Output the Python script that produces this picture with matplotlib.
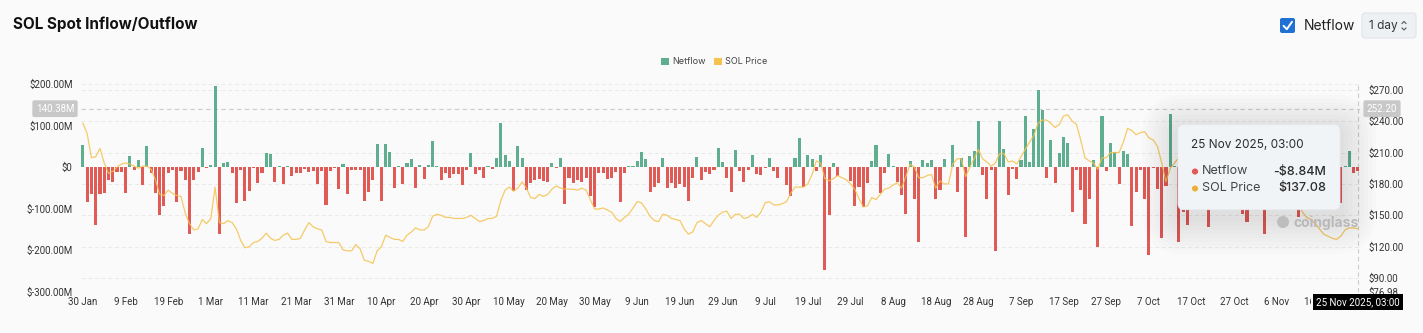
import matplotlib.pyplot as plt
import pandas as pd
from matplotlib.patches import FancyBboxPatch, Rectangle, Circle
from matplotlib.lines import Line2D
from matplotlib.transforms import IdentityTransform, blended_transform_factory, Bbox

W, H = 1423, 333

# daily netflow, $M (30 Jan .. 25 Nov 2025)
netflow = [
    54, -85, -66, -140, -66, -62, -31, -35, -11, -11,
    -62, 27, -7, 16, -43, 51, -14, -62, -116, -94,
    -15, -7, -84, -10, -31, -162, -31, -11, 47, -3,
    5, 196, -162, 9, 13, -14, -86, -7, -82, -58,
    -3, -39, -14, 35, 31, -35, 3, -40, 2, -22,
    -14, -14, -5, -11, -10, -40, -10, -92, -10, -2,
    -53, 8, -66, -6, -6, -7, -81, -59, -31, 55,
    -81, 56, 37, -50, 3, -40, 9, 20, -50, 6,
    -28, 5, 62, 2, -31, -14, -27, -17, -17, -42,
    -8, 35, -17, -6, -27, 3, -5, 23, 105, 29,
    14, -58, 50, 21, -54, -38, -31, -29, -34, -35,
    11, -3, 21, -90, -27, -38, -31, -35, -26, -70,
    -96, -15, -14, -29, -27, -12, -84, -14, 3, 2,
    15, 37, 19, -59, -49, -38, 23, -50, -38, -50,
    -40, -49, -82, -27, 25, -31, -11, -16, -6, 45,
    12, -26, -59, 42, -9, -37, -8, 30, -16, -18,
    -2, 23, -10, -27, 1, -44, -69, 23, 71, -49,
    28, 20, -9, 30, -247, -115, 10, -22, 1, -1,
    -34, -94, -47, -96, -38, 15, 52, -62, -15, 31,
    2, -35, -67, -114, 14, -76, -180, 18, 11, 18,
    -77, -54, 19, 1, 52, -59, 22, -169, 27, 38,
    112, -18, -77, -7, -202, 112, 43, -67, -5, -29,
    17, 123, 12, 91, 186, 138, -26, 66, -38, 34,
    73, 57, -108, -7, -55, -136, -77, 16, -193, 122,
    -10, 59, 37, -41, 39, 32, -141, -60, -8, -77,
    -211, -3, -52, -170, -46, 127, 3, -180, -108, -140,
    -30, 20, -45, -60, -145, 15, -25, -50, 30, -20,
    -70, 10, -112, -132, -40, 25, -60, -162, -30, 18,
    -55, -20, 40, -35, -80, -120, -25, 12, -60, -40,
    20, -70, -15, 30, -50, -86, 2, 38, -14, -8.84,
]

# daily SOL price, $
price = [
    238, 228, 205, 206, 214, 200, 190, 192, 196, 199,
    200, 199, 197, 195, 197, 197, 194, 184, 170, 169,
    174, 171, 169, 168, 152, 142, 136, 137, 146, 142,
    147, 177, 143, 142, 145, 143, 137, 126, 119, 120,
    124, 125, 128, 133, 128, 126, 127, 131, 133, 127,
    127, 128, 136, 143, 139, 137, 136, 125, 124, 124,
    124, 117, 116, 116, 122, 118, 107, 106, 104, 116,
    120, 131, 129, 127, 127, 125, 131, 134, 138, 136,
    136, 139, 149, 151, 150, 148, 148, 147, 147, 147,
    148, 150, 147, 144, 145, 147, 147, 149, 164, 174,
    177, 173, 176, 182, 176, 167, 166, 170, 168, 170,
    175, 178, 176, 175, 175, 175, 174, 176, 174, 165,
    156, 156, 157, 155, 153, 147, 144, 148, 151, 157,
    163, 162, 156, 149, 145, 144, 151, 150, 147, 146,
    145, 137, 132, 134, 143, 145, 142, 139, 145, 150,
    153, 154, 147, 151, 151, 147, 148, 151, 148, 153,
    162, 163, 160, 160, 161, 163, 171, 177, 177, 177,
    180, 189, 202, 200, 185, 183, 185, 188, 186, 184,
    180, 175, 166, 158, 159, 167, 165, 170, 175, 176,
    179, 181, 176, 187, 199, 196, 186, 186, 188, 189,
    176, 183, 180, 180, 199, 204, 204, 187, 196, 204,
    213, 204, 201, 197, 200, 209, 209, 201, 202, 199,
    206, 213, 220, 226, 238, 241, 241, 238, 234, 237,
    245, 246, 240, 237, 222, 205, 202, 200, 194, 205,
    205, 210, 210, 210, 220, 233, 231, 227, 229, 230,
    224, 222, 216, 200, 182, 195, 200, 205, 200, 195,
    187, 186, 188, 189, 186, 183, 184, 190, 192, 194,
    200, 198, 196, 194, 186, 187, 186, 184, 163, 156,
    160, 157, 163, 160, 166, 160, 153, 148, 146, 142,
    137, 132, 130, 128, 127, 130, 136, 138, 138, 137.08,
]

dates = pd.date_range('2025-01-30', periods=len(netflow), freq='D')
tick_idx = list(range(0, len(netflow), 10))
tick_labels = [f'{dates[i].day} {dates[i]:%b}' for i in tick_idx]

left_ticks = [-300, -200, -100, 0, 100, 200]
left_labels = ['$-300.00M', '$-200.00M', '$-100.00M', '$0', '$100.00M', '$200.00M']
right_ticks = [76.98, 90, 120, 150, 180, 210, 240, 270]
right_labels = ['$76.98', '$90.00', '$120.00', '$150.00', '$180.00', '$210.00', '$240.00', '$270.00']

GREEN = '#60ae90'
RED = '#e05a56'
GOLD = '#f5c24e'
BG = '#fafafa'
TXT = '#333333'

plt.rcParams['font.family'] = ['Inter', 'DejaVu Sans']


def fx(px):
    return px / W


def fy(py):
    return 1 - py / H


def box(x0, y0, x1, y1, r, **kw):
    # rounded box in pixel coords (y measured from the top)
    p = FancyBboxPatch((x0, H - y1), x1 - x0, y1 - y0,
                       boxstyle=f'round,pad=0,rounding_size={r}',
                       transform=IdentityTransform(), **kw)
    fig.add_artist(p)
    return p


fig = plt.figure(figsize=(W / 100, H / 100), dpi=100, facecolor=BG)
ax = fig.add_axes([fx(81), fy(291.7), (1360 - 81) / W, (291.7 - 84) / H])
ax.set_facecolor(BG)
ax2 = ax.twinx()

x = list(range(len(netflow)))
colors = [GREEN if v >= 0 else RED for v in netflow]
ax.bar(x, netflow, width=0.72, color=colors, zorder=2)
ax2.plot(x, price, color=GOLD, lw=0.9, alpha=0.85, zorder=3)

ax.set_xlim(-0.45, len(netflow) - 0.5)
ax.set_ylim(-300, 200)
ax2.set_ylim(76.98, 275.5)

# faint grid on the price ticks, behind the bars
gtr = blended_transform_factory(ax.transAxes, ax2.transData)
for t in right_ticks[1:]:
    ax.plot([0, 1], [t, t], transform=gtr, color='#e8e8e8', lw=0.6,
            ls=(0, (5, 3)), zorder=0)
for v in (200, -300):
    ax.axhline(v, color='#e8e8e8', lw=0.6, ls=(0, (5, 3)), zorder=0)

# crosshair
ax.axhline(140.38, color='#cccccc', lw=0.8, ls=(0, (4, 3)), zorder=1)
ax.axvline(len(netflow) - 1, color='#cccccc', lw=0.8, ls=(0, (4, 3)), zorder=1)

for a in (ax, ax2):
    for s in a.spines.values():
        s.set_visible(False)

ax.set_xticks(tick_idx, tick_labels)
ax.set_yticks(left_ticks, left_labels)
ax2.set_yticks(right_ticks, right_labels)
ax.tick_params(axis='x', length=0, pad=4, labelsize=7, labelcolor=TXT)
ax.tick_params(axis='y', length=0, pad=6, labelsize=7, labelcolor=TXT)
ax2.tick_params(axis='y', length=0, pad=6, labelsize=7, labelcolor=TXT)
for lab in ax.get_xticklabels() + ax.get_yticklabels() + ax2.get_yticklabels():
    lab.set_family(['Roboto', 'DejaVu Sans'])
# last date label sits under the crosshair date box: only its first digit peeks out
last = ax.get_xticklabels()[-1]
last.set_clip_box(Bbox.from_extents(0, 0, 1311, H))
last.set_clip_on(True)

# title and controls
fig.text(fx(13), fy(24.5), 'SOL Spot Inflow/Outflow', fontsize=11, fontweight='bold',
         color='#111111', va='center')
box(1280, 18, 1295, 33, 2, fc='#2170d3', ec='none')
fig.add_artist(Line2D([1283.5, 1286.8, 1292], [H - 25.8, H - 29.2, H - 21.8],
                      transform=IdentityTransform(), color='white', lw=1.4,
                      solid_capstyle='round', solid_joinstyle='round'))
fig.text(fx(1304), fy(25.5), 'Netflow', fontsize=10, color='#222222', va='center')
box(1362, 13, 1416, 38, 3, fc='#eef1f4', ec='#e1e4e8', lw=0.8)
fig.text(fx(1369), fy(25.5), '1 day', fontsize=8.5, color='#333333', va='center')
fig.add_artist(Line2D([1402, 1404, 1406], [H - 23.5, H - 21.5, H - 23.5],
                      transform=IdentityTransform(), color='#555555', lw=0.8))
fig.add_artist(Line2D([1402, 1404, 1406], [H - 28, H - 30, H - 28],
                      transform=IdentityTransform(), color='#555555', lw=0.8))

# legend
fig.add_artist(Rectangle((661, H - 65), 7.5, 7.5, transform=IdentityTransform(),
                         fc=GREEN, ec='none'))
fig.text(fx(672), fy(61), 'Netflow', fontsize=6.5, color='#444444', va='center')
fig.add_artist(Rectangle((714, H - 65), 7.5, 7.5, transform=IdentityTransform(),
                         fc=GOLD, ec='none'))
fig.text(fx(725), fy(61), 'SOL Price', fontsize=6.5, color='#444444', va='center')

# crosshair axis labels
fig.text(fx(55), fy(108.7), '140.38M', fontsize=7, color='white', ha='center', va='center',
         family=['Roboto', 'DejaVu Sans'],
         bbox=dict(boxstyle='round,pad=0.35,rounding_size=0.2', fc='#c8c8c8', ec='none'))
fig.text(fx(1382), fy(108.7), '252.20', fontsize=7, color='white', ha='center', va='center',
         family=['Roboto', 'DejaVu Sans'],
         bbox=dict(boxstyle='round,pad=0.35,rounding_size=0.2', fc='#c8c8c8', ec='none'))
fig.text(fx(1358), fy(302.3), '25 Nov 2025, 03:00', fontsize=7, color='white',
         ha='center', va='center', family=['Roboto', 'DejaVu Sans'], zorder=5,
         bbox=dict(boxstyle='square,pad=0.3', fc='black', ec='none'))

# tooltip with soft shadow
for k in range(9):
    g = 4 + k * 4
    box(1178 - g, 124.7 - g + 6, 1340 + g, 209.7 + g + 8, 6 + g, fc='#000000',
        ec='none', alpha=0.011)

# watermark (sits in the tooltip shadow)
fig.add_artist(Circle((1283, H - 222), 6, transform=IdentityTransform(),
                      fc='#bdbdbd', ec='none', zorder=4))
fig.text(fx(1294), fy(223), 'coinglass', fontsize=10, fontweight='bold',
         color='#b9b9b9', va='center', zorder=4)

box(1178, 124.7, 1340, 209.7, 6, fc='#f1f4f7', ec='#e6e9ee', lw=0.6, zorder=5)
fig.text(fx(1191), fy(145), '25 Nov 2025, 03:00', fontsize=8.5, color='#2b2b2b',
         va='center', zorder=6)
fig.add_artist(Circle((1195, H - 171.5), 3.5, transform=IdentityTransform(),
                      fc=RED, ec='#ffffff', lw=0.5, zorder=6))
fig.add_artist(Circle((1195, H - 188.5), 3.5, transform=IdentityTransform(),
                      fc='#e8b03c', ec='#ffffff', lw=0.5, zorder=6))
fig.text(fx(1202), fy(171.5), 'Netflow', fontsize=9, color='#444444', va='center', zorder=6)
fig.text(fx(1202), fy(188.5), 'SOL Price', fontsize=9, color='#444444', va='center', zorder=6)
fig.text(fx(1326), fy(171.5), f'-${abs(netflow[-1]):.2f}M', fontsize=9, color='#2b2b2b',
         ha='right', va='center', fontweight='medium', zorder=6)
fig.text(fx(1326), fy(188.5), f'${price[-1]:.2f}', fontsize=9, color='#2b2b2b',
         ha='right', va='center', fontweight='medium', zorder=6)

fig.savefig('out.png', dpi=100, facecolor=BG)
